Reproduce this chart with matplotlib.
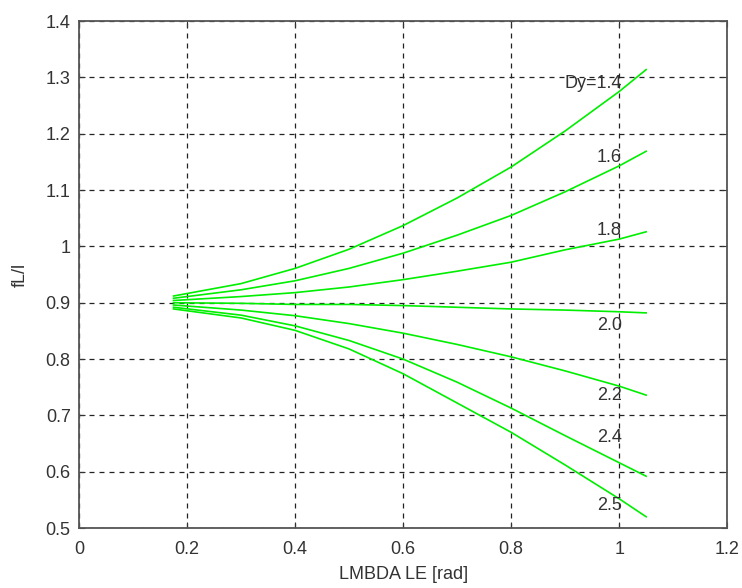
import matplotlib.pyplot as plt

plt.rcParams['font.family'] = ['Liberation Sans Narrow', 'Liberation Sans', 'DejaVu Sans']

# sweep angle samples [rad]
lam = [0.175, 0.3, 0.4, 0.5, 0.6, 0.7, 0.8, 0.9, 1.0, 1.05]

# fL/l for each Dy
dy_14 = [0.912, 0.934, 0.961, 0.995, 1.037, 1.086, 1.141, 1.205, 1.275, 1.314]
dy_16 = [0.908, 0.923, 0.939, 0.961, 0.988, 1.020, 1.055, 1.097, 1.143, 1.169]
dy_18 = [0.904, 0.911, 0.918, 0.928, 0.941, 0.956, 0.972, 0.994, 1.013, 1.026]
dy_20 = [0.900, 0.899, 0.897, 0.897, 0.895, 0.892, 0.889, 0.887, 0.884, 0.882]
dy_22 = [0.896, 0.887, 0.877, 0.863, 0.846, 0.826, 0.804, 0.779, 0.752, 0.736]
dy_24 = [0.892, 0.878, 0.859, 0.833, 0.800, 0.759, 0.713, 0.664, 0.616, 0.592]
dy_25 = [0.889, 0.873, 0.851, 0.818, 0.774, 0.722, 0.670, 0.612, 0.552, 0.520]

curves = [dy_14, dy_16, dy_18, dy_20, dy_22, dy_24, dy_25]
labels = ['Dy=1.4', '1.6', '1.8', '2.0', '2.2', '2.4', '2.5']
label_y = [1.290, 1.158, 1.029, 0.860, 0.736, 0.660, 0.540]

fig = plt.figure(figsize=(7.42, 5.88), dpi=100)
ax = fig.add_axes([0.1065, 0.102, 0.8735, 0.862])

for c in curves:
    ax.plot(lam, c, color='#00ee00', lw=1.2)

for txt, y in zip(labels, label_y):
    ax.text(1.005, y, txt, ha='right', va='center', fontsize=13, color='#333333')

ax.set_xlim(0, 1.2)
ax.set_ylim(0.5, 1.4)
ax.set_xticks([0, 0.2, 0.4, 0.6, 0.8, 1, 1.2])
ax.set_xticklabels(['0', '0.2', '0.4', '0.6', '0.8', '1', '1.2'])
ax.set_yticks([0.5, 0.6, 0.7, 0.8, 0.9, 1.0, 1.1, 1.2, 1.3, 1.4])
ax.set_yticklabels(['0.5', '0.6', '0.7', '0.8', '0.9', '1', '1.1', '1.2', '1.3', '1.4'])
ax.grid(True, color='#222222', linestyle=(0, (4, 4)), lw=0.9)
ax.tick_params(direction='in', top=True, right=True, length=4,
               labelsize=13, colors='#333333')
ax.tick_params(axis='x', pad=9)
ax.tick_params(axis='y', pad=6)
for s in ax.spines.values():
    s.set_color('#555555')
    s.set_linewidth(1.3)

ax.set_xlabel('LMBDA LE [rad]', fontsize=13, color='#333333', labelpad=6)
ax.set_ylabel('fL/l', fontsize=13, color='#333333', labelpad=12)

fig.savefig('out.png', dpi=100)
